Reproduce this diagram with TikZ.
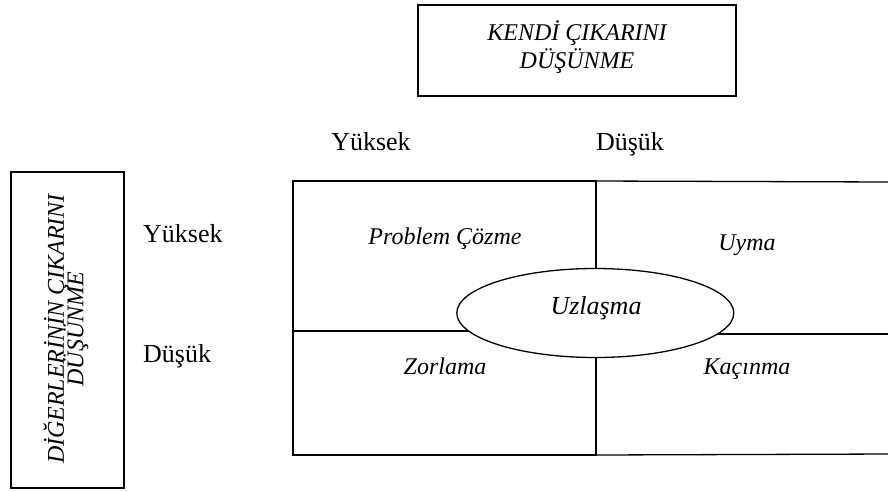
\documentclass[tikz,border=0pt]{standalone}
\usepackage{fontspec}
\setmainfont{Liberation Serif}
\usetikzlibrary{shapes.geometric}
\newcommand\mytightlines{\lineskiplimit=-40pt\relax}
\begin{document}
\begin{tikzpicture}[x=1pt,y=-1pt,
  frame/.style={draw=black, line width=1.6pt, inner sep=0pt},
  gridline/.style={draw=black, line width=1.3pt},
  lab/.style={font=\fontsize{24}{28}\selectfont\itshape, inner sep=0pt, anchor=base},
  biglab/.style={font=\fontsize{26}{30}\selectfont\itshape, inner sep=0pt, anchor=base},
  axis/.style={font=\fontsize{26}{30}\selectfont, inner sep=0pt, anchor=base},
]
\useasboundingbox (0,0) rectangle (888,491);

% top box
\node[frame, minimum width=318pt, minimum height=91pt] (topbox) at (577,50.5) {};
\node[font={\fontsize{24}{28}\selectfont\mytightlines\itshape}, align=center, inner sep=0pt] (toptext) at (577,47.5) {KENDİ ÇIKARINI\\DÜŞÜNME};

% left box
\node[frame, minimum width=113pt, minimum height=316pt] (leftbox) at (67.5,330) {};
\node[font={\fontsize{24}{19.5}\selectfont\mytightlines\itshape}, align=center, inner sep=0pt, rotate=90] (lefttext) at (66,329) {DİĞERLERİNİN ÇIKARINI\\DÜŞÜNME};

% axis labels
\node[axis] (colhigh) at (371,150) {Yüksek};
\node[axis] (collow) at (630,150) {Düşük};
\node[axis, anchor=base west] (rowhigh) at (143,242) {Yüksek};
\node[axis, anchor=base west] (rowlow) at (143,362) {Düşük};

% grid
\coordinate (LT) at (293,181);
\coordinate (MT) at (596,181);
\coordinate (RT) at (890,182);
\coordinate (LB) at (293,455);
\coordinate (MB) at (596,455);
\coordinate (RB) at (890,454);
\coordinate (LM) at (293,331);
\coordinate (ML) at (596,331);
\coordinate (MR) at (596,334);
\coordinate (RM) at (890,334);
\draw[gridline] (LT) -- (MT) -- (MB) -- (LB) -- cycle;
\draw[gridline] (MT) -- (RT);
\draw[gridline] (MB) -- (RB);
\draw[gridline] (LM) -- (ML);
\draw[gridline] (MR) -- (RM);

% ellipse
\node[ellipse, draw=black, fill=white, line width=1.3pt, minimum width=277pt, minimum height=89pt, inner sep=0pt] (uzl) at (595.3,313) {};
\node[biglab] (uzltext) at (596,314) {Uzlaşma};

% quadrant labels
\node[lab] (pc) at (445,244) {Problem Çözme};
\node[lab] (uy) at (747,250) {Uyma};
\node[lab] (zo) at (445,374) {Zorlama};
\node[lab] (ka) at (747,374) {Kaçınma};
\end{tikzpicture}
\end{document}
